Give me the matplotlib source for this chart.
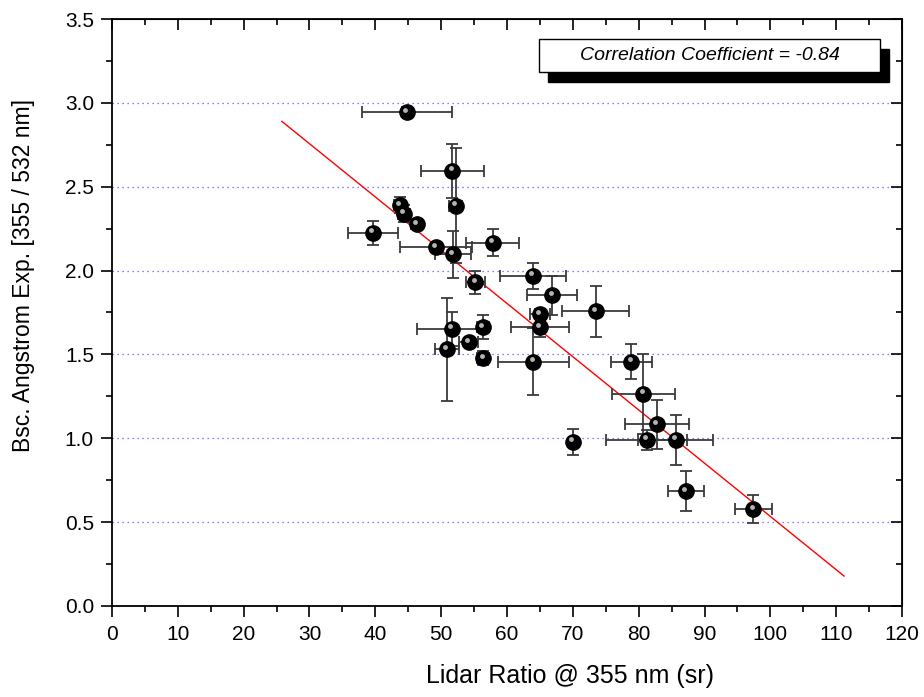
import matplotlib
matplotlib.use("Agg")
import matplotlib.pyplot as plt
import matplotlib.patches as mpatches
import matplotlib.ticker as ticker
import matplotlib.transforms as mtransforms
import numpy as np

plt.rcParams["font.family"] = ["Liberation Sans", "DejaVu Sans"]

# ── data ────────────────────────────────────────────────────────────────────
lidar_ratio = [44.8, 39.6, 43.7, 44.3, 46.3, 49.2, 51.7, 52.2, 51.8, 57.8,
               55.2, 63.9, 66.9, 73.5, 65.0, 65.0, 64.0, 51.6, 50.9, 56.3,
               54.2, 56.4, 78.9, 80.7, 82.8, 85.6, 81.2, 70.0, 87.2, 97.4]
angstrom = [2.945, 2.225, 2.39, 2.34, 2.276, 2.14, 2.594, 2.388, 2.098, 2.167,
            1.93, 1.968, 1.853, 1.757, 1.74, 1.662, 1.456, 1.652, 1.53, 1.663,
            1.572, 1.478, 1.456, 1.265, 1.083, 0.99, 0.99, 0.98, 0.685, 0.578]
lidar_err = [6.8, 3.8, 0.8, 0.9, 0.85, 5.5, 4.75, 1.0, 2.7, 4.0,
             1.4, 5.0, 3.8, 5.1, 1.5, 4.35, 5.4, 5.2, 1.8, 0.9,
             1.45, 0.9, 3.1, 4.8, 4.9, 5.7, 6.2, 0.4, 2.7, 2.8]
angstrom_err = [0.03, 0.07, 0.046, 0.05, 0.03, 0.02, 0.16, 0.345, 0.14, 0.08,
                0.067, 0.08, 0.117, 0.154, 0.03, 0.06, 0.2, 0.1, 0.305, 0.073,
                0.02, 0.04, 0.105, 0.24, 0.145, 0.15, 0.06, 0.078, 0.12, 0.082]

# linear fit
fit_slope = -0.03175
fit_intercept = 3.709
fit_range = [25.8, 111.2]
corr_text = "Correlation Coefficient = -0.84"

x_ticks = list(range(0, 121, 10))
y_ticks = [0.0, 0.5, 1.0, 1.5, 2.0, 2.5, 3.0, 3.5]

fig = plt.figure(figsize=(9.24, 6.97), dpi=100)
ax = fig.add_axes([0.1212, 0.1306, 0.8550, 0.8421])

# horizontal dotted grid at major y ticks
for yv in y_ticks[1:-1]:
    ax.axhline(yv, color="#5555ff", linestyle=(0, (1, 3)), linewidth=0.9, zorder=0)

# fit line
fx = np.array(fit_range)
ax.plot(fx, fit_intercept + fit_slope * fx, color="red", linewidth=1.0, zorder=2)

# error bars + spheres
ax.errorbar(lidar_ratio, angstrom, xerr=lidar_err, yerr=angstrom_err,
            fmt="none", ecolor="#3a3a3a", elinewidth=1.3, capsize=4.5,
            capthick=1.3, zorder=3)
ax.plot(lidar_ratio, angstrom, "o", color="black", markersize=11, zorder=4)
hl = mtransforms.offset_copy(ax.transData, fig=fig, x=-1.2, y=1.8, units="points")
ax.plot(lidar_ratio, angstrom, "o", color="#c8c8c8", markersize=3.5,
        markeredgewidth=0, alpha=0.9, transform=hl, zorder=5)

ax.set_xlim(0, 120)
ax.set_ylim(0, 3.5)
ax.xaxis.set_major_locator(ticker.FixedLocator(x_ticks))
ax.xaxis.set_minor_locator(ticker.MultipleLocator(5))
ax.yaxis.set_major_locator(ticker.FixedLocator(y_ticks))
ax.yaxis.set_minor_locator(ticker.MultipleLocator(0.25))
ax.yaxis.set_major_formatter(ticker.FormatStrFormatter("%.1f"))

ax.tick_params(axis="both", which="both", labelsize=15, width=1.2)
ax.tick_params(axis="both", which="major", length=8)
ax.tick_params(axis="both", which="minor", length=4.5)
ax.tick_params(axis="x", which="both", direction="out", top=False, pad=6)
ax.tick_params(axis="y", which="both", direction="out", right=False, pad=5)

# mirrored inward ticks on top and right
axt = ax.secondary_xaxis("top")
axt.xaxis.set_major_locator(ticker.FixedLocator(x_ticks))
axt.xaxis.set_minor_locator(ticker.MultipleLocator(5))
axt.tick_params(which="both", direction="in", labeltop=False, width=1.2)
axt.tick_params(which="major", length=8)
axt.tick_params(which="minor", length=4.5)
axr = ax.secondary_yaxis("right")
axr.yaxis.set_major_locator(ticker.FixedLocator(y_ticks))
axr.yaxis.set_minor_locator(ticker.MultipleLocator(0.25))
axr.tick_params(which="both", direction="in", labelright=False, width=1.2)
axr.tick_params(which="major", length=8)
axr.tick_params(which="minor", length=4.5)

for sp in ax.spines.values():
    sp.set_linewidth(1.3)

# axis titles placed where the reference has them (slightly off-centre)
fig.text(570 / 924, 1 - 676 / 697, "Lidar Ratio @ 355 nm (sr)", fontsize=18,
         ha="center", va="center")
fig.text(24 / 924, 1 - 275 / 697, "Bsc. Angstrom Exp. [355 / 532 nm]",
         fontsize=16.5, ha="center", va="center", rotation=90)

# annotation box with drop shadow
bx, by, bw, bh = 539 / 924, 1 - 72 / 697, 341 / 924, 33 / 697
fig.add_artist(mpatches.Rectangle((bx + 9 / 924, by - 10 / 697), bw, bh,
                                  transform=fig.transFigure, facecolor="black",
                                  edgecolor="black", zorder=10))
fig.add_artist(mpatches.Rectangle((bx, by), bw, bh, transform=fig.transFigure,
                                  facecolor="white", edgecolor="black",
                                  linewidth=1.0, zorder=11))
fig.text(bx + bw / 2, by + bh / 2, corr_text, fontsize=14, style="italic",
         ha="center", va="center", zorder=12)

fig.savefig("out.png", dpi=100)
